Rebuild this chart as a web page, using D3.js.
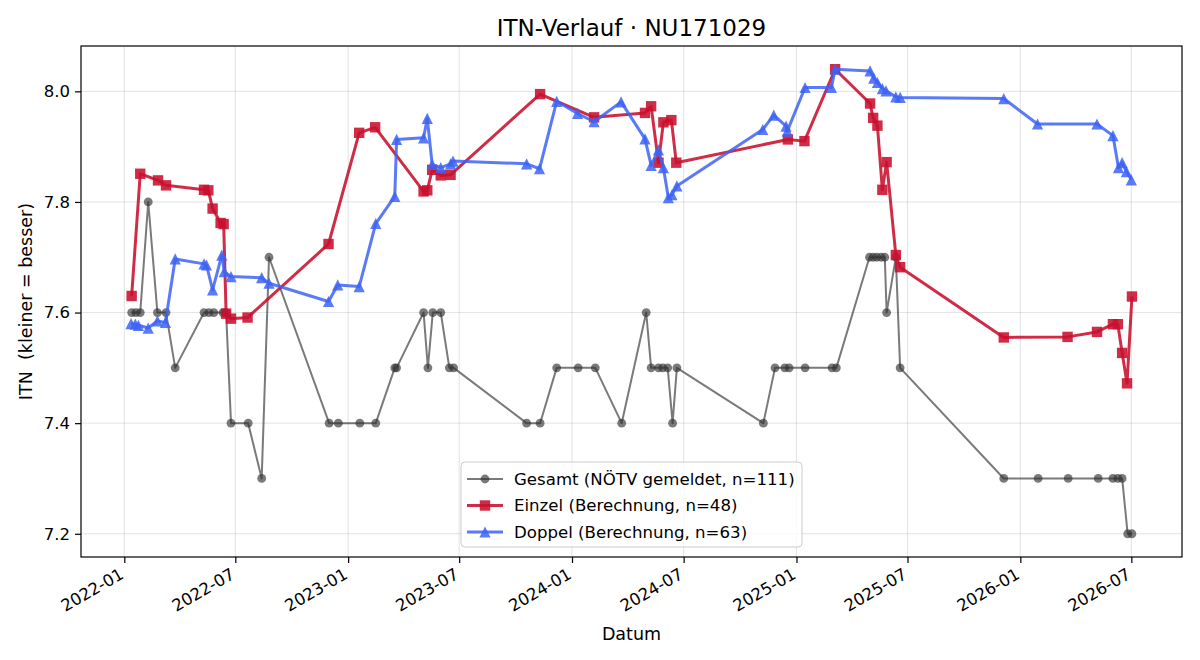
<!DOCTYPE html>
<html>
<head>
<meta charset="utf-8">
<script src="https://cdn.jsdelivr.net/npm/d3@7"></script>
<style>
  body { margin: 0; background: #fff; }
  svg { font-family: "DejaVu Sans", sans-serif; }
  text { white-space: pre; }
</style>
</head>
<body>
<svg id="chart" width="1200" height="660"></svg>
<script>
// Gesamt (NÖTV gemeldet)
const gesamtDates = ["2022-01-13","2022-01-20","2022-01-27","2022-02-09","2022-02-24","2022-03-10","2022-03-25",
  "2022-05-11","2022-05-19","2022-05-27","2022-06-11","2022-06-16","2022-06-24","2022-07-22","2022-08-13","2022-08-25",
  "2022-12-01","2022-12-16","2023-01-20","2023-02-15","2023-03-18","2023-03-21","2023-05-04","2023-05-11","2023-05-19",
  "2023-06-01","2023-06-15","2023-06-22","2023-10-19","2023-11-10","2023-12-07","2024-01-11","2024-02-08","2024-03-22",
  "2024-05-01","2024-05-09","2024-05-21","2024-05-28","2024-06-05","2024-06-13","2024-06-20","2024-11-08","2024-11-27",
  "2024-12-13","2024-12-20","2025-01-15","2025-02-28","2025-03-07","2025-04-30","2025-05-06","2025-05-12","2025-05-19",
  "2025-05-25","2025-05-28","2025-06-12","2025-06-19","2025-12-05","2026-01-30","2026-03-20","2026-05-08","2026-06-01",
  "2026-06-09","2026-06-16","2026-06-25","2026-07-02"];
const gesamtValues = [7.6,7.6,7.6,7.8,7.6,7.6,7.5,
  7.6,7.6,7.6,7.6,7.6,7.4,7.4,7.3,7.7,
  7.4,7.4,7.4,7.4,7.5,7.5,7.6,7.5,7.6,
  7.6,7.5,7.5,7.4,7.4,7.5,7.5,7.5,7.4,
  7.6,7.5,7.5,7.5,7.5,7.4,7.5,7.4,7.5,
  7.5,7.5,7.5,7.5,7.5,7.7,7.7,7.7,7.7,
  7.7,7.6,7.7,7.5,7.3,7.3,7.3,7.3,7.3,
  7.3,7.3,7.2,7.2];

// Einzel (Berechnung)
const einzelDates = ["2022-01-13","2022-01-27","2022-02-25","2022-03-10","2022-05-11","2022-05-18","2022-05-25",
  "2022-06-07","2022-06-12","2022-06-16","2022-06-24","2022-07-21","2022-11-30","2023-01-19","2023-02-14","2023-05-04",
  "2023-05-10","2023-05-18","2023-06-01","2023-06-17","2023-11-10","2024-02-06","2024-04-29","2024-05-09","2024-05-21",
  "2024-05-29","2024-06-11","2024-06-19","2024-12-18","2025-01-14","2025-03-05","2025-05-01","2025-05-06","2025-05-13",
  "2025-05-21","2025-05-28","2025-06-12","2025-06-19","2025-12-05","2026-03-19","2026-05-06","2026-06-01","2026-06-09",
  "2026-06-16","2026-06-24","2026-07-02"];
const einzelValues = [7.630,7.851,7.839,7.830,7.822,7.821,7.788,
  7.762,7.760,7.598,7.589,7.591,7.724,7.925,7.935,7.819,
  7.821,7.858,7.848,7.849,7.995,7.953,7.961,7.973,7.871,
  7.944,7.948,7.871,7.913,7.910,8.040,7.978,7.952,7.938,
  7.822,7.872,7.704,7.682,7.555,7.556,7.565,7.579,7.579,
  7.527,7.472,7.629];

// Doppel (Berechnung)
const doppelDates = ["2022-01-12","2022-01-19","2022-01-24","2022-02-09","2022-02-24","2022-03-09","2022-03-25",
  "2022-05-11","2022-05-15","2022-05-25","2022-06-09","2022-06-13","2022-06-24","2022-08-13","2022-08-25","2022-11-30",
  "2022-12-15","2023-01-19","2023-02-15","2023-03-18","2023-03-21","2023-05-04","2023-05-10","2023-05-18","2023-06-01",
  "2023-06-17","2023-06-21","2023-10-19","2023-11-09","2023-12-07","2024-01-10","2024-02-06","2024-03-21","2024-04-29",
  "2024-05-09","2024-05-21","2024-05-29","2024-06-06","2024-06-12","2024-06-20","2024-11-07","2024-11-25","2024-12-15",
  "2024-12-17","2025-01-15","2025-02-27","2025-03-05","2025-05-01","2025-05-07","2025-05-13","2025-05-21","2025-05-27",
  "2025-06-12","2025-06-19","2025-12-05","2026-01-29","2026-05-06","2026-06-01","2026-06-10","2026-06-16","2026-06-23",
  "2026-07-01"];
const doppelValues = [7.580,7.579,7.577,7.572,7.585,7.582,7.697,
  7.688,7.686,7.641,7.704,7.674,7.665,7.663,7.653,7.620,
  7.650,7.647,7.761,7.810,7.913,7.916,7.951,7.868,7.862,
  7.869,7.874,7.869,7.860,7.982,7.960,7.945,7.981,7.914,
  7.866,7.894,7.862,7.808,7.813,7.829,7.931,7.957,7.937,
  7.928,8.007,8.007,8.040,8.037,8.024,8.016,8.005,8.001,
  7.990,7.989,7.987,7.941,7.941,7.920,7.862,7.871,7.855,
  7.840];

const yTicks = [7.2, 7.4, 7.6, 7.8, 8.0];
const legendLabels = ["Gesamt (NÖTV gemeldet, n=111)", "Einzel (Berechnung, n=48)", "Doppel (Berechnung, n=63)"];

const parse = d3.timeParse("%Y-%m-%d");
const toPoints = (dates, vals) => dates.map((d, i) => ({ date: parse(d), value: vals[i] }));

const series = [
  { name: legendLabels[0], data: toPoints(gesamtDates, gesamtValues), color: "#333333", opacity: 0.65, width: 2, marker: "circle" },
  { name: legendLabels[1], data: toPoints(einzelDates, einzelValues), color: "#c8102e", opacity: 0.88, width: 3, marker: "square" },
  { name: legendLabels[2], data: toPoints(doppelDates, doppelValues), color: "#3d63f5", opacity: 0.85, width: 3, marker: "triangle" }
];

const W = 1200, H = 660;
const margin = { top: 46, right: 18, bottom: 103, left: 81 };
const iw = W - margin.left - margin.right;
const ih = H - margin.top - margin.bottom;

const svg = d3.select("#chart");
const g = svg.append("g").attr("transform", `translate(${margin.left},${margin.top})`);

// matplotlib-like 5% margins around the data
const all = series.flatMap(s => s.data);
const [t0, t1] = d3.extent(all, d => +d.date);
const [v0, v1] = d3.extent(all, d => d.value);
const tp = (t1 - t0) * 0.05, vp = (v1 - v0) * 0.05;

const x = d3.scaleTime()
  .domain([new Date(t0 - tp), new Date(t1 + tp)])
  .range([0, iw]);
const y = d3.scaleLinear()
  .domain([v0 - vp, v1 + vp])
  .range([ih, 0]);

const xTicks = x.ticks(d3.timeMonth.every(6));

// grid
g.append("g").selectAll("line").data(xTicks).enter().append("line")
  .attr("x1", d => x(d)).attr("x2", d => x(d))
  .attr("y1", 0).attr("y2", ih)
  .attr("stroke", "#b0b0b0").attr("stroke-opacity", 0.35).attr("stroke-width", 1);
g.append("g").selectAll("line").data(yTicks).enter().append("line")
  .attr("x1", 0).attr("x2", iw)
  .attr("y1", d => y(d)).attr("y2", d => y(d))
  .attr("stroke", "#b0b0b0").attr("stroke-opacity", 0.35).attr("stroke-width", 1);

// markers
function markerPath(type) {
  if (type === "square") return "M-5.2,-5.2H5.2V5.2H-5.2Z";
  if (type === "triangle") return "M0,-5.6L5.6,5.6L-5.6,5.6Z";
  return d3.symbol(d3.symbolCircle, Math.PI * 4.4 * 4.4)();
}

const line = d3.line().x(d => x(d.date)).y(d => y(d.value));

series.forEach(s => {
  const sg = g.append("g");
  sg.append("path")
    .datum(s.data)
    .attr("d", line)
    .attr("fill", "none")
    .attr("stroke", s.color)
    .attr("stroke-width", s.width)
    .attr("stroke-opacity", s.opacity)
    .attr("stroke-linejoin", "round");
  sg.selectAll(".pt").data(s.data).enter().append("path")
    .attr("class", "pt")
    .attr("d", markerPath(s.marker))
    .attr("transform", d => `translate(${x(d.date)},${y(d.value)})`)
    .attr("fill", s.color)
    .attr("fill-opacity", s.opacity);
});

// axes
const xAxis = g.append("g")
  .attr("transform", `translate(0,${ih})`)
  .call(d3.axisBottom(x).tickValues(xTicks).tickFormat(d3.timeFormat("%Y-%m")).tickSizeOuter(0).tickSize(6));
xAxis.selectAll("text")
  .attr("x", 0).attr("y", 0)
  .attr("dy", "0.74em")
  .attr("text-anchor", "end")
  .attr("transform", "translate(-6,10) rotate(-30)");

const yAxis = g.append("g")
  .call(d3.axisLeft(y).tickValues(yTicks).tickFormat(d3.format(".1f")).tickSizeOuter(0).tickSize(6).tickPadding(5));

[xAxis, yAxis].forEach(a => {
  a.attr("font-family", "DejaVu Sans, sans-serif").attr("font-size", null);
  a.selectAll("text").style("font-size", "16.5px").attr("fill", "#000");
  a.select(".domain").remove();
  a.selectAll(".tick line").attr("stroke", "#000").attr("stroke-width", 1.2);
});

// frame
g.append("rect")
  .attr("x", 0).attr("y", 0).attr("width", iw).attr("height", ih)
  .attr("fill", "none").attr("stroke", "#000").attr("stroke-width", 1.2);

// titles
svg.append("text")
  .attr("x", margin.left + iw / 2).attr("y", 36)
  .attr("text-anchor", "middle")
  .style("font-size", "23px")
  .text("ITN-Verlauf · NU171029");

svg.append("text")
  .attr("x", margin.left + iw / 2).attr("y", 640)
  .attr("text-anchor", "middle")
  .style("font-size", "17.5px")
  .text("Datum");

svg.append("text")
  .attr("transform", `translate(32,${margin.top + ih / 2}) rotate(-90)`)
  .attr("text-anchor", "middle")
  .style("font-size", "17.5px")
  .text("ITN  (kleiner = besser)");

// legend
const lg = svg.append("g").attr("transform", `translate(${margin.left + iw / 2 - 170.5},462)`);
lg.append("rect")
  .attr("width", 341).attr("height", 85).attr("rx", 4)
  .attr("fill", "#fff").attr("fill-opacity", 0.8)
  .attr("stroke", "#cccccc").attr("stroke-width", 1);

series.forEach((s, i) => {
  const row = lg.append("g").attr("transform", `translate(0,${17 + i * 26.5})`);
  row.append("line")
    .attr("x1", 6).attr("x2", 42).attr("y1", 0).attr("y2", 0)
    .attr("stroke", s.color).attr("stroke-width", s.width).attr("stroke-opacity", s.opacity);
  row.append("path")
    .attr("d", markerPath(s.marker))
    .attr("transform", "translate(24,0)")
    .attr("fill", s.color).attr("fill-opacity", s.opacity);
  row.append("text")
    .attr("x", 53).attr("y", 0).attr("dy", "0.35em")
    .style("font-size", "16.6px")
    .text(s.name);
});
</script>
</body>
</html>
